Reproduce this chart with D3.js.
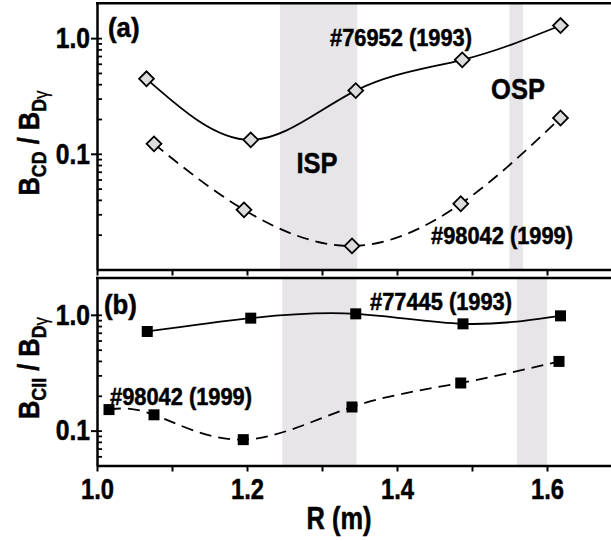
<!DOCTYPE html>
<html>
<head>
<meta charset="utf-8">
<script src="https://cdn.jsdelivr.net/npm/d3@7"></script>
<style>
  body { margin: 0; background: #fff; }
  svg { display: block; font-family: "Liberation Sans", Arial, sans-serif; font-weight: bold; }
  text { stroke: #000; stroke-width: 0.5px; }
</style>
</head>
<body>
<svg id="chart" width="611" height="541"></svg>
<script>
// panel (a): B_CD / B_Dgamma
var aSolidR = [1.066, 1.205, 1.345, 1.487, 1.618],
    aSolidV = [0.445, 0.132, 0.352, 0.649, 1.285],
    aDashR = [1.076, 1.196, 1.340, 1.485, 1.618],
    aDashV = [0.122, 0.0328, 0.0160, 0.0370, 0.204];

// panel (b): B_CII / B_Dgamma
var bSolidR = [1.067, 1.205, 1.345, 1.488, 1.618],
    bSolidV = [0.718, 0.936, 1.02, 0.836, 0.98],
    bDashR = [1.016, 1.076, 1.195, 1.340, 1.485, 1.616],
    bDashV = [0.152, 0.137, 0.0836, 0.160, 0.258, 0.396];

// shaded strike-point regions [R0, R1]
var bandsA = [[1.244, 1.347], [1.550, 1.568]],
    bandsB = [[1.247, 1.346], [1.560, 1.600]];

var xTicks = [1.0, 1.1, 1.2, 1.3, 1.4, 1.5, 1.6, 1.7],
    xLabels = [1.0, 1.2, 1.4, 1.6],
    yMajor = [0.1, 1.0],
    yMinorA = [0.02, 0.03, 0.04, 0.05, 0.06, 0.07, 0.08, 0.09, 0.2, 0.3, 0.4, 0.5, 0.6, 0.7, 0.8, 0.9],
    yMinorB = [0.06, 0.07, 0.08, 0.09, 0.2, 0.3, 0.4, 0.5, 0.6, 0.7, 0.8, 0.9];

var svg = d3.select('#chart'),
    left = 97,
    x = d3.scaleLinear().domain([1.0, 1.7]).range([left, 622]),
    yA = d3.scaleLog().domain([0.01, 2]).range([269.5, 3.3]),
    yB = d3.scaleLog().domain([0.05, 2.08]).range([465.5, 278]);

function pairs(rs, vs) {
    return rs.map(function(r, i){ return [r, vs[i]]; });
}

// squeeze text horizontally to mimic the condensed face
function condense(sel, k) {
    sel.each(function(){
        var t = d3.select(this),
            tx = +t.attr('x') || 0,
            ty = +t.attr('y') || 0;
        t.attr('x', 0).attr('y', 0)
         .attr('transform', 'translate(' + tx + ',' + ty + ') scale(' + k + ',1)');
    });
}

function label(txt, px, py, size, anchor, k) {
    return svg.append('text')
        .text(txt)
        .attr('transform', 'translate(' + px + ',' + py + ') scale(' + k + ',1)')
        .attr('font-size', size)
        .attr('text-anchor', anchor);
}

function panel(y, bands, top, bottom, minor, withLabels) {
    var g = svg.append('g');

    g.selectAll('rect.band')
        .data(bands)
        .enter()
        .append('rect')
        .attr('x', function(d){ return x(d[0]); })
        .attr('width', function(d){ return x(d[1]) - x(d[0]); })
        .attr('y', top)
        .attr('height', bottom - top)
        .attr('fill', '#e7e5e7');

    // left axis: major ticks with labels
    var yAxis = g.append('g')
        .attr('transform', 'translate(' + left + ',0)')
        .call(d3.axisLeft(y).tickValues(yMajor).tickSize(6).tickSizeOuter(0)
              .tickPadding(1).tickFormat(d3.format('.1f')));
    yAxis.select('.domain').attr('stroke-width', 2.5);
    yAxis.selectAll('.tick line').attr('stroke-width', 2);
    yAxis.selectAll('.tick text').attr('font-size', 29).attr('fill', '#000');
    condense(yAxis.selectAll('.tick text'), 0.85);

    // inner minor ticks
    var yIn = g.append('g')
        .attr('transform', 'translate(' + left + ',0)')
        .call(d3.axisRight(y).tickValues(minor.concat(yMajor)).tickSize(5).tickSizeOuter(0).tickFormat(''));
    yIn.select('.domain').remove();
    yIn.selectAll('.tick line').attr('stroke-width', 1.8);

    // bottom axis
    var xAxis = g.append('g')
        .attr('transform', 'translate(0,' + bottom + ')')
        .call(d3.axisBottom(x).tickValues(xTicks).tickSize(6).tickSizeOuter(0).tickPadding(7)
              .tickFormat(function(d){
                  return (withLabels && xLabels.some(function(v){ return Math.abs(v - d) < 1e-6; }))
                      ? d3.format('.1f')(d) : '';
              }));
    xAxis.select('.domain').attr('stroke-width', 2.5);
    xAxis.selectAll('.tick line').attr('stroke-width', 2);
    xAxis.selectAll('.tick text').attr('font-size', 29).attr('fill', '#000');
    condense(xAxis.selectAll('.tick text'), 0.82);

    // top frame line
    g.append('line')
        .attr('x1', left - 1).attr('x2', 611)
        .attr('y1', top).attr('y2', top)
        .attr('stroke', '#000').attr('stroke-width', 2.5);

    return g;
}

function series(g, y, data, dashed, marker) {
    var line = d3.line()
        .x(function(d){ return x(d[0]); })
        .y(function(d){ return y(d[1]); })
        .curve(d3.curveNatural);

    g.append('path')
        .datum(data)
        .attr('d', line)
        .attr('fill', 'none')
        .attr('stroke', '#000')
        .attr('stroke-width', 1.8)
        .attr('stroke-dasharray', dashed ? '12,7' : null);

    if (marker === 'diamond') {
        g.selectAll(null)
            .data(data)
            .enter()
            .append('path')
            .attr('d', d3.symbol().type(d3.symbolSquare).size(110))
            .attr('transform', function(d){ return 'translate(' + x(d[0]) + ',' + y(d[1]) + ') rotate(45)'; })
            .attr('fill', '#dcdcdc')
            .attr('stroke', '#000')
            .attr('stroke-width', 1.8);
    } else {
        g.selectAll(null)
            .data(data)
            .enter()
            .append('rect')
            .attr('x', function(d){ return x(d[0]) - 5.5; })
            .attr('y', function(d){ return y(d[1]) - 5.5; })
            .attr('width', 11)
            .attr('height', 11)
            .attr('fill', '#000');
    }
}

var gA = panel(yA, bandsA, 3.3, 269.5, yMinorA, false);
var gB = panel(yB, bandsB, 278, 465.5, yMinorB, true);

series(gA, yA, pairs(aSolidR, aSolidV), false, 'diamond');
series(gA, yA, pairs(aDashR, aDashV), true, 'diamond');
series(gB, yB, pairs(bSolidR, bSolidV), false, 'square');
series(gB, yB, pairs(bDashR, bDashV), true, 'square');

// annotations
label('(a)', 108, 37, 28, 'start', 0.92);
label('(b)', 104, 314, 28, 'start', 0.92);
label('#76952 (1993)', 330, 46, 24, 'start', 0.91);
label('#98042 (1999)', 431, 244, 24, 'start', 0.91);
label('#77445 (1993)', 370, 310, 24, 'start', 0.91);
label('#98042 (1999)', 110, 405, 24, 'start', 0.91);
label('ISP', 317, 173, 30, 'middle', 0.85);
label('OSP', 518, 99, 30, 'middle', 0.85);
label('R (m)', 339, 529, 31, 'middle', 0.82);

// rotated y titles with subscripts
function yTitle(sub, cy) {
    var t = svg.append('text')
        .attr('transform', 'translate(39,' + cy + ') rotate(-90) scale(0.85,1)')
        .attr('text-anchor', 'middle')
        .attr('font-size', 30);
    t.append('tspan').text('B');
    t.append('tspan').text(sub).attr('font-size', 21).attr('dy', 7);
    t.append('tspan').text(' / B').attr('dy', -7);
    t.append('tspan').text('D').attr('font-size', 21).attr('dy', 7);
    t.append('tspan').text('γ').attr('font-size', 20).attr('font-weight', 'normal')
        .style('stroke-width', '0.2px').attr('dy', 2);
}
yTitle('CD', 143);
yTitle('CII', 368);
</script>
</body>
</html>
